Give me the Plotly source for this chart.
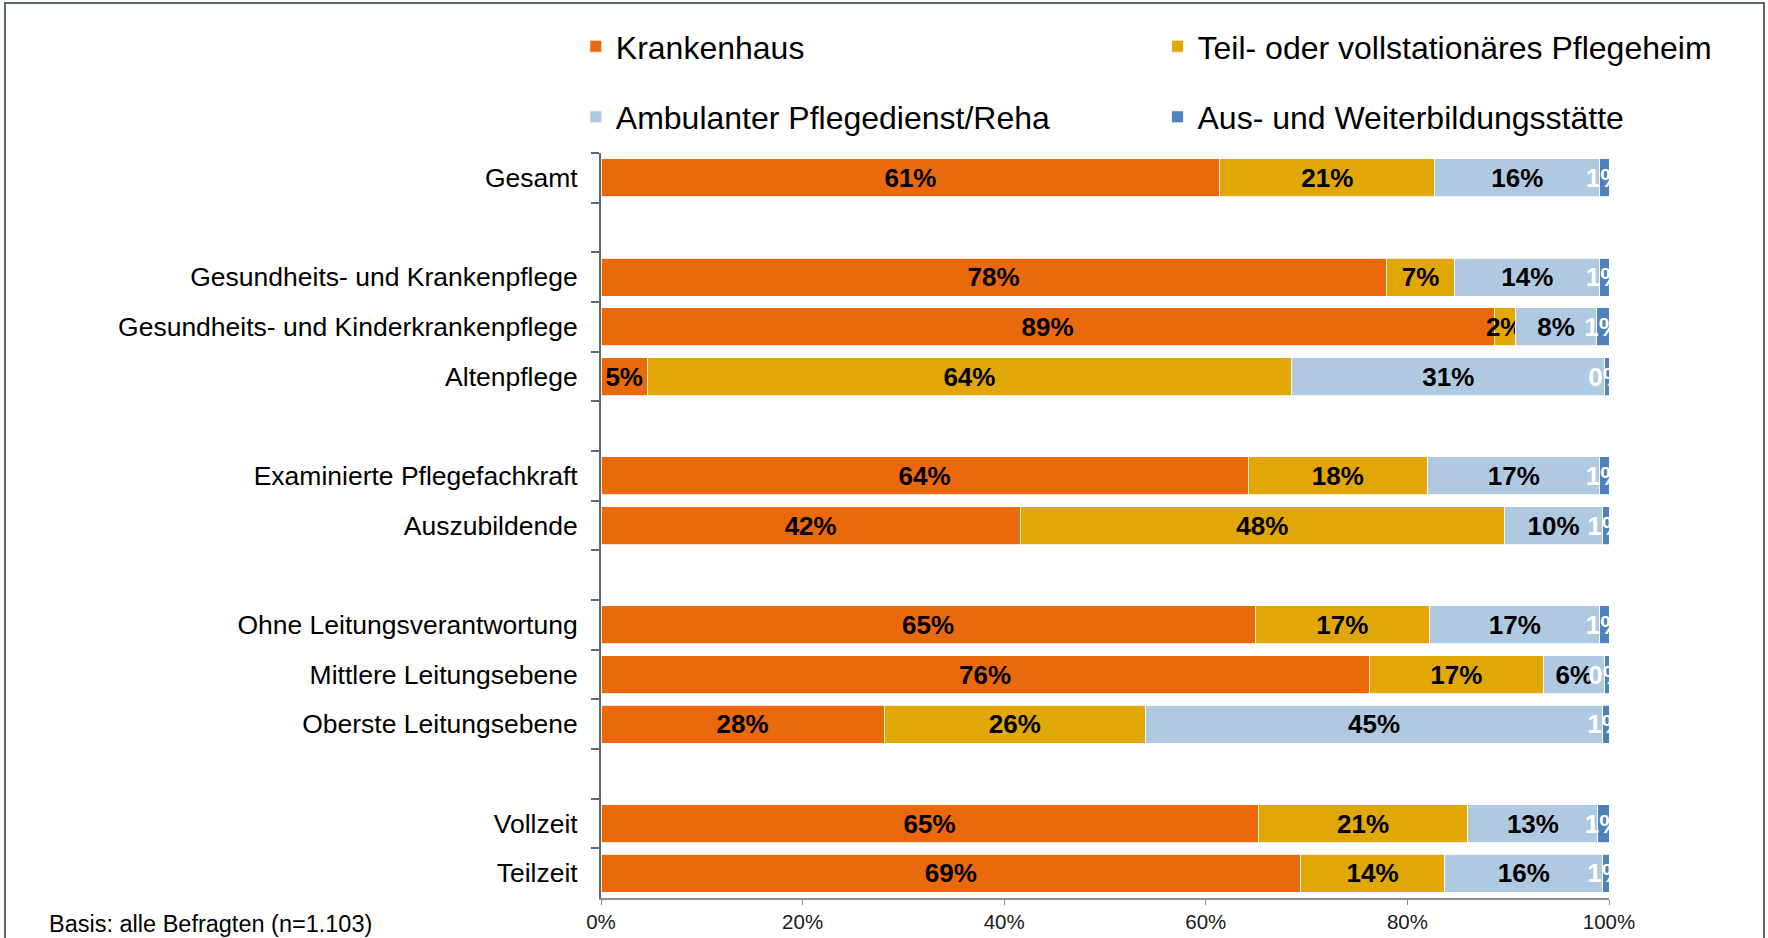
import plotly.graph_objects as go

# categories, top to bottom (blank strings are spacer rows)
categories = [
    "Gesamt",
    " ",
    "Gesundheits- und Krankenpflege",
    "Gesundheits- und Kinderkrankenpflege",
    "Altenpflege",
    "  ",
    "Examinierte Pflegefachkraft",
    "Auszubildende",
    "   ",
    "Ohne Leitungsverantwortung",
    "Mittlere Leitungsebene",
    "Oberste Leitungsebene",
    "    ",
    "Vollzeit",
    "Teilzeit",
]

krankenhaus = [61.4, None, 77.9, 88.6, 4.6, None, 64.2, 41.6, None, 64.9, 76.2, 28.1, None, 65.2, 69.4]
pflegeheim = [21.3, None, 6.8, 2.1, 63.9, None, 17.8, 48.0, None, 17.3, 17.3, 25.9, None, 20.8, 14.3]
ambulant = [16.4, None, 14.4, 8.1, 31.1, None, 17.1, 9.8, None, 16.9, 6.1, 45.4, None, 12.9, 15.7]
ausbildung = [0.9, None, 0.9, 1.2, 0.4, None, 0.9, 0.6, None, 0.9, 0.4, 0.6, None, 1.1, 0.6]

x_ticks = [0, 20, 40, 60, 80, 100]
x_ticklabels = ["0%", "20%", "40%", "60%", "80%", "100%"]

series = [
    ("Krankenhaus", krankenhaus, "#E9690C", "black", "legend"),
    ("Teil- oder vollstationäres Pflegeheim", pflegeheim, "#E0A707", "black", "legend2"),
    ("Ambulanter Pflegedienst/Reha", ambulant, "#AFC9E0", "black", "legend"),
    ("Aus- und Weiterbildungsstätte", ausbildung, "#4F81BD", "white", "legend2"),
]

FONT = "Arial, Liberation Sans, sans-serif"

fig = go.Figure()
for name, vals, color, tcolor, leg in series:
    fig.add_trace(go.Bar(
        y=categories,
        x=vals,
        name=name,
        orientation="h",
        marker=dict(color=color, line=dict(color="white", width=0.8)),
        texttemplate="%{x:.0f}%",
        textposition="inside",
        insidetextanchor="middle",
        textangle=0,
        textfont=dict(family=FONT, size=26, color=tcolor, weight="bold"),
        cliponaxis=True,
        legend=leg,
        legendgroup=name,
        hoverinfo="skip",
    ))

legend_style = dict(
    xanchor="left", yanchor="top",
    orientation="v", traceorder="grouped", tracegroupgap=26,
    font=dict(family=FONT, size=32, color="black"),
    bgcolor="rgba(0,0,0,0)",
)

fig.update_layout(
    width=1768,
    height=938,
    barmode="stack",
    bargap=0.235,
    plot_bgcolor="white",
    paper_bgcolor="white",
    font=dict(family=FONT, color="black"),
    margin=dict(l=601, r=159, t=153, b=40, autoexpand=False),
    uniformtext=dict(minsize=26, mode="show"),
    legend=dict(x=-0.025, y=1.180, **legend_style),
    legend2=dict(x=0.5521, y=1.180, **legend_style),
)

fig.update_yaxes(
    type="category",
    categoryorder="array",
    categoryarray=categories,
    autorange="reversed",
    tickson="boundaries",
    ticks="outside",
    ticklen=8,
    tickwidth=2,
    tickcolor="#5F6A74",
    showline=True,
    linecolor="#5F6A74",
    linewidth=2,
    showgrid=False,
    ticklabelstandoff=16,
    tickfont=dict(family=FONT, size=26.5, color="black"),
)

fig.update_xaxes(
    range=[0, 100],
    tickvals=x_ticks,
    ticktext=x_ticklabels,
    ticks="outside",
    ticklen=5,
    tickcolor="#8C8C8C",
    showline=True,
    linecolor="#8C8C8C",
    linewidth=1.5,
    showgrid=False,
    zeroline=False,
    tickfont=dict(family=FONT, size=20.5, color="#1A1A1A"),
)

# outer frame of the picture
fig.add_shape(
    type="rect", xref="paper", yref="paper",
    x0=-0.5913, x1=1.1538, y0=-0.07, y1=1.2013,
    line=dict(color="#5B6670", width=2),
    layer="above",
)

fig.add_annotation(
    text="Basis: alle Befragten (n=1.103)",
    xref="paper", yref="paper",
    x=-0.5496, y=-0.0345, xanchor="left", yanchor="middle",
    showarrow=False,
    font=dict(family=FONT, size=23.5, color="black"),
)

# page without the default body margin, so the figure sits at 0,0
fig.write_html(
    "out.html",
    config={"displayModeBar": False},
    post_script="document.body.style.margin='0';",
)
